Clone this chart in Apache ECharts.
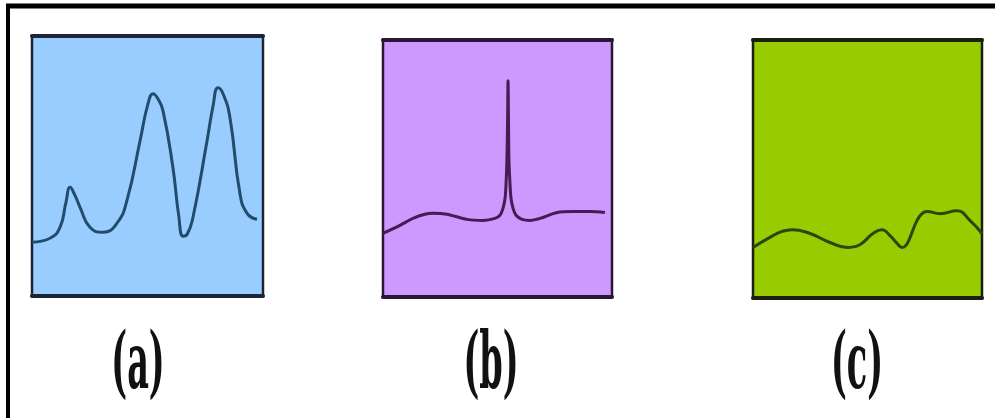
<!DOCTYPE html>
<html>
<head>
<meta charset="utf-8">
<script src="https://cdn.jsdelivr.net/npm/echarts@6/dist/echarts.min.js"></script>
<style>
  html, body { margin: 0; padding: 0; background: #ffffff; }
  #chart { width: 995px; height: 418px; }
</style>
</head>
<body>
<div id="chart"></div>
<script>
// Panel captions
var panelLabels = ['(a)', '(b)', '(c)'];

// Spectrum (a): three absorption bands
var positionsA = [0, 7.8, 12.1, 14.7, 16.5, 18.6, 20.8, 25.1, 30.7, 36.8, 41.1, 46.8, 50.2, 52.4, 54.5, 56.7, 61.0, 63.5, 65.4, 67.1, 69.7, 75.8, 78.4, 80.5, 82.7, 85.7, 90.0, 93.1, 97.4];
var intensityA = [20.7, 22.2, 26.4, 36.0, 41.8, 38.7, 34.1, 26.4, 24.5, 28.0, 36.8, 59.8, 73.9, 77.8, 75.9, 71.3, 49.4, 31.0, 23.0, 23.6, 30.3, 59.8, 73.2, 80.1, 77.8, 68.6, 39.5, 31.8, 29.5];

// Spectrum (b): flat baseline with one sharp line
var positionsB = [0, 7.4, 13.1, 18.3, 21.8, 27.9, 36.7, 43.7, 48.9, 51.1, 52.4, 53.3, 53.7, 54.1, 54.4, 54.6, 54.8, 55.0, 55.5, 55.9, 56.8, 58.1, 60.7, 64.2, 68.6, 76.0, 83.0, 90.4, 96.9];
var intensityB = [24.8, 27.9, 30.6, 32.2, 32.6, 32.2, 30.2, 29.8, 30.6, 31.8, 34.5, 38.4, 43.4, 53.1, 68.6, 84.1, 68.6, 53.1, 43.4, 38.4, 34.5, 31.8, 30.2, 29.8, 30.6, 32.9, 33.3, 33.3, 32.9];

// Spectrum (c): weak, broad features only
var positionsC = [0, 7.4, 12.7, 17.0, 24.9, 33.6, 41.5, 45.0, 48.0, 52.4, 56.3, 59.8, 62.9, 65.1, 66.8, 68.6, 71.6, 73.8, 76.0, 81.7, 89.1, 94.8, 100];
var intensityC = [19.6, 23.5, 25.8, 26.5, 25.0, 21.5, 19.6, 20.0, 21.5, 25.0, 26.5, 24.2, 21.2, 19.6, 20.4, 23.5, 30.0, 32.7, 33.5, 32.7, 33.8, 30.0, 25.0];

function pairs(xs, ys) {
  return xs.map(function (x, i) { return [x, ys[i]]; });
}

var panels = [
  { grid: { left: 32, top: 36, width: 231, height: 260 }, bg: '#99ccff', frame: '#1d2436', line: '#234c6b', data: pairs(positionsA, intensityA), smooth: 0.5, labelX: 138 },
  { grid: { left: 383, top: 40, width: 229, height: 257 }, bg: '#cc99ff', frame: '#2b1733', line: '#4a1a52', data: pairs(positionsB, intensityB), smooth: 0.3, labelX: 491 },
  { grid: { left: 753, top: 40, width: 229, height: 258 }, bg: '#99cc00', frame: '#1a1f10', line: '#2a4712', data: pairs(positionsC, intensityC), smooth: 0.5, labelX: 857 }
];

var grids = [], xAxes = [], yAxes = [], series = [], graphics = [];

panels.forEach(function (p, i) {
  grids.push(Object.assign({
    show: true,
    backgroundColor: p.bg,
    borderColor: p.frame,
    borderWidth: 2.5
  }, p.grid));

  // bottom axis carries the heavy lower frame edge
  xAxes.push({
    type: 'value', gridIndex: i, min: 0, max: 100, position: 'bottom',
    axisLine: { show: true, onZero: false, lineStyle: { color: p.frame, width: 4 } },
    axisTick: { show: false }, axisLabel: { show: false }, splitLine: { show: false }
  });
  // top axis carries the heavy upper frame edge
  xAxes.push({
    type: 'value', gridIndex: i, min: 0, max: 100, position: 'top',
    axisLine: { show: true, onZero: false, lineStyle: { color: p.frame, width: 4 } },
    axisTick: { show: false }, axisLabel: { show: false }, splitLine: { show: false }
  });
  yAxes.push({
    type: 'value', gridIndex: i, min: 0, max: 100,
    axisLine: { show: false }, axisTick: { show: false },
    axisLabel: { show: false }, splitLine: { show: false }
  });

  series.push({
    type: 'line',
    xAxisIndex: i * 2,
    yAxisIndex: i,
    data: p.data,
    smooth: p.smooth,
    showSymbol: false,
    silent: true,
    lineStyle: { color: p.line, width: 3 }
  });

  // tall, narrow serif caption under each panel
  graphics.push({
    type: 'text',
    x: p.labelX,
    y: 368,
    scaleX: 0.43,
    scaleY: 1.0,
    style: {
      text: panelLabels[i],
      font: 'bold 78px "DejaVu Serif", serif',
      fill: '#111111',
      textAlign: 'center',
      textVerticalAlign: 'middle'
    }
  });
});

// outer figure frame: top and left edges
graphics.push({
  type: 'line',
  shape: { x1: 6, y1: 6, x2: 995, y2: 6 },
  style: { stroke: '#000000', lineWidth: 5 }
});
graphics.push({
  type: 'line',
  shape: { x1: 8, y1: 4, x2: 8, y2: 418 },
  style: { stroke: '#000000', lineWidth: 4 }
});

var chart = echarts.init(document.getElementById('chart'), null, { renderer: 'canvas' });
chart.setOption({
  animation: false,
  backgroundColor: '#ffffff',
  grid: grids,
  xAxis: xAxes,
  yAxis: yAxes,
  series: series,
  graphic: graphics
});
</script>
</body>
</html>
